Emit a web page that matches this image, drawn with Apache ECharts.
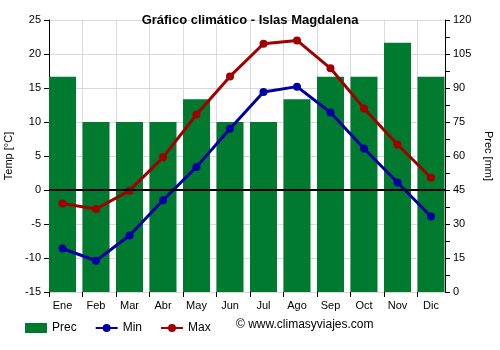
<!DOCTYPE html>
<html>
<head>
<meta charset="utf-8">
<script src="https://cdn.jsdelivr.net/npm/echarts@6/dist/echarts.min.js"></script>
<style>html,body{margin:0;padding:0;background:#fff}#c{width:500px;height:350px}</style>
</head>
<body>
<div id="c"></div>
<script>
// Monthly climate data
const months = ['Ene','Feb','Mar','Abr','May','Jun','Jul','Ago','Sep','Oct','Nov','Dic'];
const prec = [95, 75, 75, 75, 85, 75, 75, 85, 95, 95, 110, 95];
const tMin = [-8.6, -10.4, -6.7, -1.5, 3.4, 9.0, 14.4, 15.2, 11.4, 6.1, 1.1, -3.9];
const tMax = [-2.0, -2.8, -0.1, 4.8, 11.1, 16.7, 21.5, 22.0, 17.9, 12.0, 6.7, 1.8];
const tempTicks = {min: -15, max: 25, interval: 5};
const precTicks = {min: 0, max: 120, interval: 15};

// Plot frame: axes run from x=49 to x=445; the monthly bands are 33.5px wide,
// with the first bar touching the left axis and the last one the right axis.
const frame = {left: 49, right: 55, top: 20, bottom: 58};
const band = 33.5;
const dataGrid = {left: 49 - band * 0.097, width: band * 12, top: 20, bottom: 58};
const tickGrid = {left: 49, width: band * 11, top: 20, bottom: 58};

const chart = echarts.init(document.getElementById('c'), null, {renderer: 'canvas'});
const font = 'Arial, "Liberation Sans", sans-serif';
const txt = {fontFamily: font, fontSize: 11, color: '#000'};

chart.setOption({
  animation: false,
  backgroundColor: '#fff',
  title: {
    text: 'Gráfico climático - Islas Magdalena',
    left: 'center', top: 9,
    textStyle: {fontFamily: font, fontSize: 13, fontWeight: 'bold', color: '#000'}
  },
  grid: [
    Object.assign({outerBoundsMode: 'none', containLabel: false}, frame),
    Object.assign({outerBoundsMode: 'none', containLabel: false}, dataGrid),
    Object.assign({outerBoundsMode: 'none', containLabel: false}, tickGrid)
  ],
  legend: {
    left: 20, top: 317, itemGap: 18, itemWidth: 22, itemHeight: 10,
    textStyle: {fontFamily: font, fontSize: 12, color: '#000'},
    data: [
      {name: 'Prec', icon: 'rect'},
      {name: 'Min'},
      {name: 'Max'}
    ]
  },
  graphic: [{
    type: 'text', left: 236, top: 319,
    style: {text: '© www.climasyviajes.com', font: '12px ' + font, fill: '#000'}
  }],
  xAxis: [{
    // bottom axis line of the frame
    gridIndex: 0, type: 'category', data: months,
    axisLine: {lineStyle: {color: '#000'}},
    axisTick: {show: false}, axisLabel: {show: false}, splitLine: {show: false}
  }, {
    // month labels centred on the bars
    gridIndex: 1, type: 'category', data: months,
    axisLine: {show: false}, axisTick: {show: false},
    axisLabel: Object.assign({margin: 8}, txt),
    splitLine: {show: false}
  }, {
    // ticks and vertical grid lines at the left edge of each bar
    gridIndex: 2, type: 'value', min: 0, max: 11, interval: 1,
    axisLine: {show: false}, axisLabel: {show: false},
    axisTick: {show: true, length: 5, lineStyle: {color: '#000'}},
    splitLine: {show: true, lineStyle: {color: '#d9d9d9'}}
  }],
  yAxis: [{
    gridIndex: 0, type: 'value', min: tempTicks.min, max: tempTicks.max, interval: tempTicks.interval,
    name: 'Temp [°C]', nameLocation: 'middle', nameGap: 30,
    nameTextStyle: txt,
    axisLine: {show: true, lineStyle: {color: '#000'}},
    axisTick: {show: true, lineStyle: {color: '#000'}},
    axisLabel: txt,
    splitLine: {show: true, lineStyle: {color: '#d9d9d9'}}
  }, {
    gridIndex: 0, type: 'value', position: 'right',
    min: precTicks.min, max: precTicks.max, interval: precTicks.interval,
    name: 'Prec [mm]', nameLocation: 'middle', nameGap: 32, nameRotate: -90,
    nameTextStyle: txt,
    axisLine: {show: true, lineStyle: {color: '#000'}},
    axisTick: {show: true, lineStyle: {color: '#000'}},
    minorTick: {show: true, splitNumber: 2, length: 5, lineStyle: {color: '#000'}},
    axisLabel: txt,
    splitLine: {show: false}
  }, {
    gridIndex: 1, type: 'value', show: false,
    min: tempTicks.min, max: tempTicks.max, interval: tempTicks.interval,
    splitLine: {show: false}
  }, {
    gridIndex: 1, type: 'value', show: false,
    min: precTicks.min, max: precTicks.max, interval: precTicks.interval,
    splitLine: {show: false}
  }, {
    gridIndex: 2, type: 'value', show: false, min: 0, max: 1,
    splitLine: {show: false}
  }],
  series: [{
    name: 'Prec', type: 'bar', xAxisIndex: 1, yAxisIndex: 3, data: prec,
    barCategoryGap: '19.4%',
    itemStyle: {color: '#007a2f'},
    z: 1
  }, {
    name: 'Zero', type: 'line', xAxisIndex: 0, yAxisIndex: 0, data: [],
    markLine: {
      silent: true, symbol: 'none', label: {show: false},
      lineStyle: {color: '#000', width: 2, type: 'solid'},
      data: [{yAxis: 0}]
    },
    z: 2
  }, {
    name: 'Min', type: 'line', xAxisIndex: 1, yAxisIndex: 2, data: tMin,
    symbol: 'circle', symbolSize: 8,
    lineStyle: {color: '#0000a0', width: 3},
    itemStyle: {color: '#0000a0'},
    z: 3
  }, {
    name: 'Max', type: 'line', xAxisIndex: 1, yAxisIndex: 2, data: tMax,
    symbol: 'circle', symbolSize: 8,
    lineStyle: {color: '#a00000', width: 3},
    itemStyle: {color: '#a00000'},
    z: 3
  }]
});
</script>
</body>
</html>
